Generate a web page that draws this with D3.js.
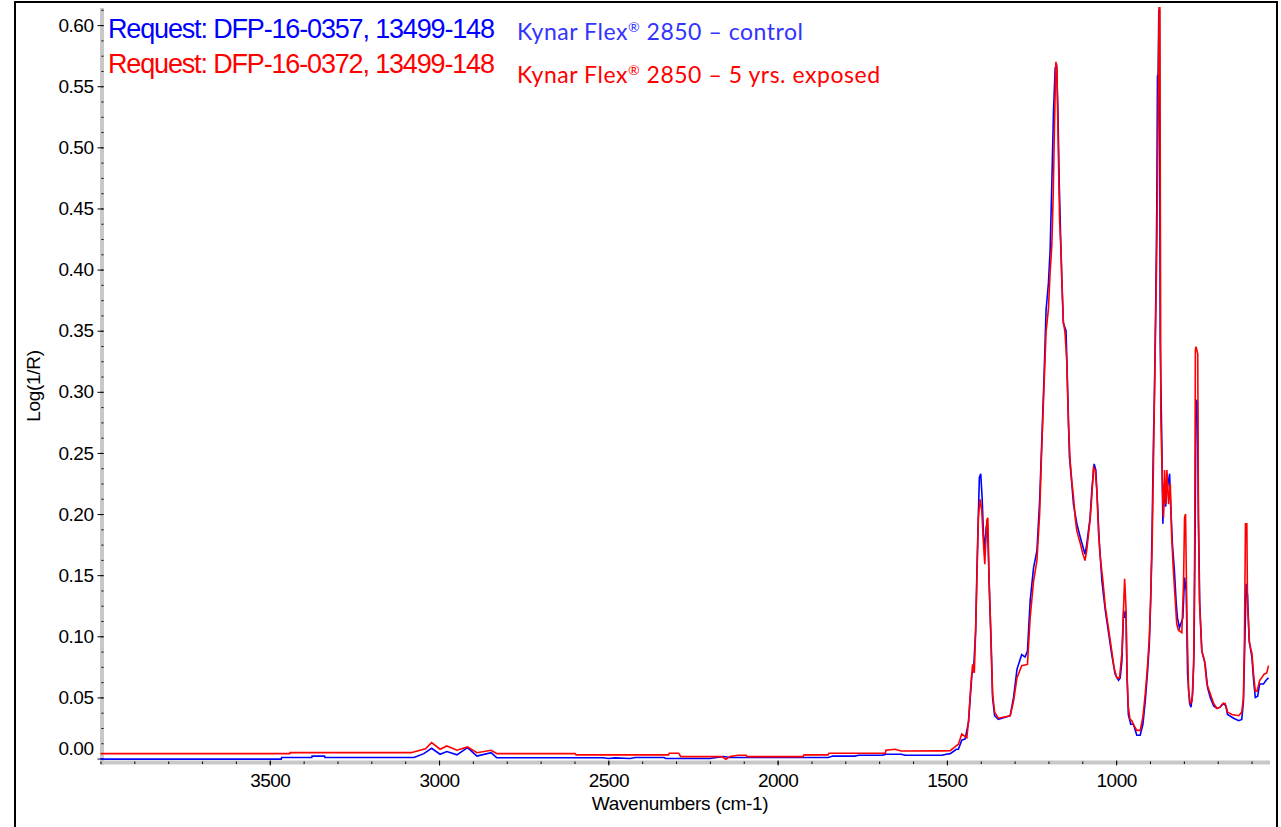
<!DOCTYPE html>
<html>
<head>
<meta charset="utf-8">
<script src="https://cdn.jsdelivr.net/npm/d3@7"></script>
<style>
  body { margin: 0; background: #fff; }
  svg { display: block; font-family: "Liberation Sans", Arial, sans-serif; }
</style>
</head>
<body>
<svg width="1281" height="827"></svg>
<script>
// Axis ticks and labels
const xMajorTicks = [3500, 3000, 2500, 2000, 1500, 1000];
const yMajorTicks = [0, 0.05, 0.1, 0.15, 0.2, 0.25, 0.3, 0.35, 0.4, 0.45, 0.5, 0.55, 0.6];
const xTitle = "Wavenumbers (cm-1)";
const yTitle = "Log(1/R)";
const requestLabels = ["Request: DFP-16-0357, 13499-148", "Request: DFP-16-0372, 13499-148"];
const sampleLabels = ["Kynar Flex® 2850 – control", "Kynar Flex® 2850 – 5 yrs. exposed"];

// Spectra, [wavenumber, log(1/R)]
const control = [
  [4000, -0.0005], [3466, -0.0005], [3465, 0.0008], [3376, 0.0008], [3375, 0.002], [3338, 0.002],
  [3337, 0.0008], [3074, 0.0008], [3045, 0.004], [3022, 0.0084], [2997, 0.0035], [2977, 0.0057],
  [2947, 0.003], [2916, 0.009], [2888, 0.002], [2846, 0.0048], [2830, 0.0007], [2515, 0.0007],
  [2500, 0.0], [2480, 0.0005], [2436, 0.0], [2420, 0.0008], [2336, 0.0008], [2330, 0.0],
  [2200, 0.0], [2160, 0.0016], [2140, 0.0008], [1850, 0.0008], [1837, 0.002], [1772, 0.002],
  [1760, 0.0027], [1690, 0.0027], [1680, 0.0035], [1635, 0.0035], [1623, 0.0027], [1514, 0.0027],
  [1502, 0.0035], [1490, 0.004], [1472, 0.0076], [1466, 0.0076], [1456, 0.015], [1446, 0.016],
  [1436, 0.03], [1426, 0.069], [1421, 0.073], [1415, 0.105], [1411, 0.156], [1407, 0.2],
  [1404, 0.23], [1400, 0.233], [1396, 0.214], [1392, 0.184], [1388, 0.17], [1384, 0.189],
  [1380, 0.192], [1375, 0.143], [1370, 0.099], [1365, 0.05], [1359, 0.035], [1348, 0.032],
  [1313, 0.035], [1303, 0.05], [1293, 0.073], [1279, 0.085], [1269, 0.083], [1262, 0.088],
  [1254, 0.129], [1244, 0.156], [1234, 0.17], [1226, 0.211], [1220, 0.257], [1213, 0.312],
  [1207, 0.367], [1200, 0.389], [1195, 0.416], [1190, 0.47], [1185, 0.53], [1180, 0.565],
  [1176, 0.568], [1172, 0.53], [1168, 0.47], [1163, 0.416], [1160, 0.388], [1156, 0.356],
  [1148, 0.35], [1144, 0.309], [1138, 0.247], [1131, 0.225], [1126, 0.208], [1121, 0.2],
  [1116, 0.192], [1106, 0.181], [1098, 0.173], [1092, 0.167], [1087, 0.175], [1077, 0.197],
  [1072, 0.219], [1065, 0.241], [1060, 0.236], [1055, 0.208], [1050, 0.178], [1042, 0.145],
  [1032, 0.121], [1023, 0.104], [1013, 0.085], [1003, 0.069], [993, 0.064], [988, 0.066],
  [983, 0.08], [978, 0.121], [974, 0.115], [971, 0.121], [968, 0.069], [964, 0.036],
  [957, 0.028], [949, 0.028], [939, 0.019], [929, 0.019], [921, 0.028], [914, 0.047],
  [907, 0.072], [902, 0.094], [898, 0.129], [894, 0.184], [890, 0.257], [887, 0.298],
  [883, 0.375], [880, 0.45], [878, 0.558], [876, 0.56], [874, 0.612], [872, 0.612],
  [870, 0.342], [865, 0.257], [862, 0.192], [858, 0.225], [854, 0.206], [850, 0.219],
  [842, 0.233], [840, 0.214], [834, 0.176], [828, 0.154], [823, 0.129], [819, 0.115],
  [813, 0.107], [803, 0.115], [798, 0.148], [793, 0.137], [789, 0.069], [783, 0.045],
  [779, 0.042], [774, 0.053], [770, 0.088], [767, 0.176], [764, 0.293], [760, 0.292],
  [757, 0.197], [753, 0.126], [747, 0.088], [737, 0.077], [730, 0.058], [722, 0.05],
  [712, 0.043], [702, 0.041], [693, 0.042], [683, 0.045], [676, 0.043], [671, 0.036],
  [653, 0.033], [638, 0.031], [629, 0.032], [624, 0.047], [620, 0.094], [616, 0.143],
  [612, 0.134], [607, 0.096], [599, 0.083], [594, 0.064], [589, 0.05], [582, 0.051],
  [576, 0.061], [565, 0.061], [557, 0.064], [550, 0.066],
];

const exposed = [
  [4000, 0.004], [3441, 0.004], [3440, 0.0048], [3083, 0.0048], [3040, 0.008], [3022, 0.013],
  [2997, 0.0076], [2977, 0.0103], [2947, 0.0068], [2916, 0.0095], [2888, 0.0048], [2846, 0.0068],
  [2829, 0.004], [2598, 0.004], [2595, 0.003], [2322, 0.003], [2320, 0.0043], [2292, 0.0043],
  [2286, 0.0016], [2165, 0.0016], [2153, -0.0006], [2140, 0.0016], [2117, 0.0027], [2093, 0.0027],
  [2090, 0.0016], [1925, 0.0016], [1922, 0.003], [1851, 0.003], [1848, 0.0043], [1682, 0.0043],
  [1680, 0.0068], [1653, 0.0076], [1635, 0.0062], [1520, 0.0063], [1490, 0.0065], [1479, 0.009],
  [1466, 0.0117], [1456, 0.02], [1441, 0.017], [1436, 0.031], [1429, 0.061], [1424, 0.077],
  [1419, 0.07], [1415, 0.105], [1411, 0.151], [1407, 0.197], [1402, 0.212], [1397, 0.203],
  [1392, 0.176], [1388, 0.159], [1382, 0.195], [1379, 0.197], [1375, 0.143], [1370, 0.102],
  [1365, 0.053], [1359, 0.038], [1348, 0.033], [1313, 0.035], [1303, 0.047], [1293, 0.066],
  [1279, 0.076], [1262, 0.077], [1254, 0.115], [1244, 0.145], [1234, 0.162], [1226, 0.2],
  [1220, 0.252], [1213, 0.305], [1207, 0.349], [1200, 0.368], [1195, 0.398], [1190, 0.42],
  [1186, 0.46], [1182, 0.52], [1178, 0.57], [1175, 0.565], [1171, 0.5], [1167, 0.44],
  [1163, 0.416], [1160, 0.388], [1156, 0.358], [1151, 0.348], [1146, 0.326], [1141, 0.274],
  [1136, 0.244], [1131, 0.227], [1126, 0.214], [1121, 0.197], [1116, 0.186], [1106, 0.176],
  [1098, 0.167], [1092, 0.162], [1087, 0.17], [1077, 0.195], [1072, 0.214], [1067, 0.238],
  [1062, 0.236], [1057, 0.219], [1052, 0.184], [1047, 0.165], [1039, 0.145], [1032, 0.124],
  [1023, 0.107], [1013, 0.088], [1006, 0.074], [998, 0.066], [990, 0.066], [983, 0.086],
  [978, 0.124], [975, 0.147], [971, 0.124], [968, 0.069], [964, 0.042], [959, 0.032],
  [954, 0.031], [949, 0.028], [939, 0.023], [929, 0.023], [921, 0.034], [914, 0.053],
  [907, 0.077], [902, 0.099], [898, 0.132], [894, 0.17], [890, 0.238], [887, 0.293],
  [883, 0.361], [880, 0.416], [876, 0.52], [873, 0.625], [871, 0.625], [869, 0.4],
  [868, 0.279], [863, 0.219], [860, 0.197], [857, 0.236], [853, 0.208], [850, 0.236],
  [845, 0.208], [840, 0.225], [836, 0.181], [831, 0.154], [826, 0.132], [821, 0.11],
  [816, 0.105], [806, 0.103], [801, 0.143], [798, 0.197], [795, 0.2], [791, 0.115],
  [786, 0.055], [781, 0.045], [776, 0.047], [771, 0.077], [768, 0.176], [766, 0.334],
  [764, 0.337], [759, 0.331], [757, 0.197], [754, 0.129], [747, 0.088], [739, 0.08],
  [732, 0.061], [722, 0.053], [712, 0.045], [702, 0.041], [693, 0.042], [685, 0.045],
  [678, 0.045], [671, 0.038], [658, 0.036], [638, 0.035], [629, 0.038], [624, 0.05],
  [621, 0.099], [618, 0.192], [614, 0.192], [612, 0.126], [606, 0.094], [599, 0.086],
  [594, 0.069], [589, 0.055], [584, 0.055], [576, 0.064], [570, 0.066], [563, 0.069],
  [555, 0.07], [550, 0.076],
];

const svg = d3.select("svg");

const x = d3.scaleLinear().domain([4000, 550]).range([100.5, 1268.5]);
const y = d3.scaleLinear().domain([-0.0012, 0.614]).range([760, 8]);

// Frame round the figure
svg.append("rect")
  .attr("x", 15).attr("y", 2)
  .attr("width", 1262).attr("height", 900)
  .attr("fill", "none")
  .attr("stroke", "#000")
  .attr("stroke-width", 2);

// Grey axis bars
svg.append("rect")
  .attr("x", 100).attr("y", 8)
  .attr("width", 4).attr("height", 757)
  .attr("fill", "#c8c8c8");
svg.append("rect")
  .attr("x", 100).attr("y", 760.5)
  .attr("width", 1170).attr("height", 4)
  .attr("fill", "#c8c8c8");

// Y axis
svg.append("g")
  .attr("transform", "translate(103.5,0)")
  .call(d3.axisLeft(y).tickValues(d3.range(0, 0.62, 0.0125)).tickSize(2).tickFormat(""))
  .call((g) => g.select(".domain").remove());

const yAxis = svg.append("g")
  .attr("transform", "translate(103.5,0)")
  .call(d3.axisLeft(y).tickValues(yMajorTicks).tickSize(6).tickPadding(4).tickFormat(d3.format(".2f")))
  .call((g) => g.select(".domain").remove());

yAxis.selectAll("line").attr("stroke", "#000");
yAxis.selectAll("text")
  .attr("font-family", "Liberation Sans, Arial, sans-serif")
  .attr("font-size", 19)
  .attr("letter-spacing", "-0.5px")
  .attr("fill", "#000")
  .filter((d) => d === 0)
  .attr("transform", "translate(0,-10)");

// X axis
svg.append("g")
  .attr("transform", "translate(0,761.5)")
  .call(d3.axisBottom(x).tickValues(d3.range(600, 4001, 100)).tickSize(2.5).tickFormat(""))
  .call((g) => g.select(".domain").remove());

const xAxis = svg.append("g")
  .attr("transform", "translate(0,760.5)")
  .call(d3.axisBottom(x).tickValues(xMajorTicks).tickSize(5).tickPadding(8).tickFormat(d3.format("d")))
  .call((g) => g.select(".domain").remove());

xAxis.selectAll("line").attr("stroke", "#000");
xAxis.selectAll("text")
  .attr("font-family", "Liberation Sans, Arial, sans-serif")
  .attr("font-size", 19)
  .attr("letter-spacing", "-0.5px")
  .attr("fill", "#000");

// Axis titles
svg.append("text")
  .attr("transform", "translate(40,386) rotate(-90)")
  .attr("text-anchor", "middle")
  .attr("font-size", 19)
  .attr("letter-spacing", "-0.3px")
  .text(yTitle);

svg.append("text")
  .attr("x", 680)
  .attr("y", 810)
  .attr("text-anchor", "middle")
  .attr("font-size", 19)
  .attr("letter-spacing", "-0.3px")
  .text(xTitle);

// Spectra
svg.append("clipPath")
  .attr("id", "plot-clip")
  .append("rect")
  .attr("x", 100).attr("y", 7)
  .attr("width", 1172).attr("height", 754);

const line = d3.line()
  .x((d) => x(d[0]))
  .y((d) => y(d[1]));

const plot = svg.append("g").attr("clip-path", "url(#plot-clip)");

plot.append("path")
  .datum(control)
  .attr("fill", "none")
  .attr("stroke", "#0000ff")
  .attr("stroke-width", 1.6)
  .attr("d", line);

plot.append("path")
  .datum(exposed)
  .attr("fill", "none")
  .attr("stroke", "#ff0000")
  .attr("stroke-width", 1.6)
  .attr("d", line);

// Squeeze a text to a given width with letter-spacing
function fitWidth(sel, widths) {
  sel.each(function (d, i) {
    const len = this.getComputedTextLength();
    const n = this.textContent.length;
    d3.select(this).attr("letter-spacing", ((widths[i] - len) / (n - 1)).toFixed(2) + "px");
  });
}

// Legend texts
const requestColors = ["#0000ff", "#ff0000"];
svg.append("g")
  .selectAll("text")
  .data(requestLabels)
  .enter()
  .append("text")
  .attr("x", 108)
  .attr("y", (d, i) => 38 + i * 35)
  .attr("font-size", 27)
  .attr("fill", (d, i) => requestColors[i])
  .text((d) => d)
  .call(fitWidth, [387, 387]);

// Sample names, with the ® raised as a superscript
const sampleColors = ["#3333ff", "#ff0000"];
const sampleText = svg.append("g")
  .selectAll("text")
  .data(sampleLabels)
  .enter()
  .append("text")
  .attr("x", 517)
  .attr("y", (d, i) => 40 + i * 43)
  .attr("font-family", "Lato, 'Open Sans', sans-serif")
  .attr("font-size", 23)
  .attr("fill", (d, i) => sampleColors[i]);

sampleText.append("tspan").text((d) => d.split("®")[0]);
sampleText.append("tspan")
  .attr("dy", -8)
  .attr("font-size", 14)
  .text("®");
sampleText.append("tspan")
  .attr("dy", 8)
  .text((d) => d.split("®")[1]);

sampleText.call(fitWidth, [286, 363]);
</script>
</body>
</html>
